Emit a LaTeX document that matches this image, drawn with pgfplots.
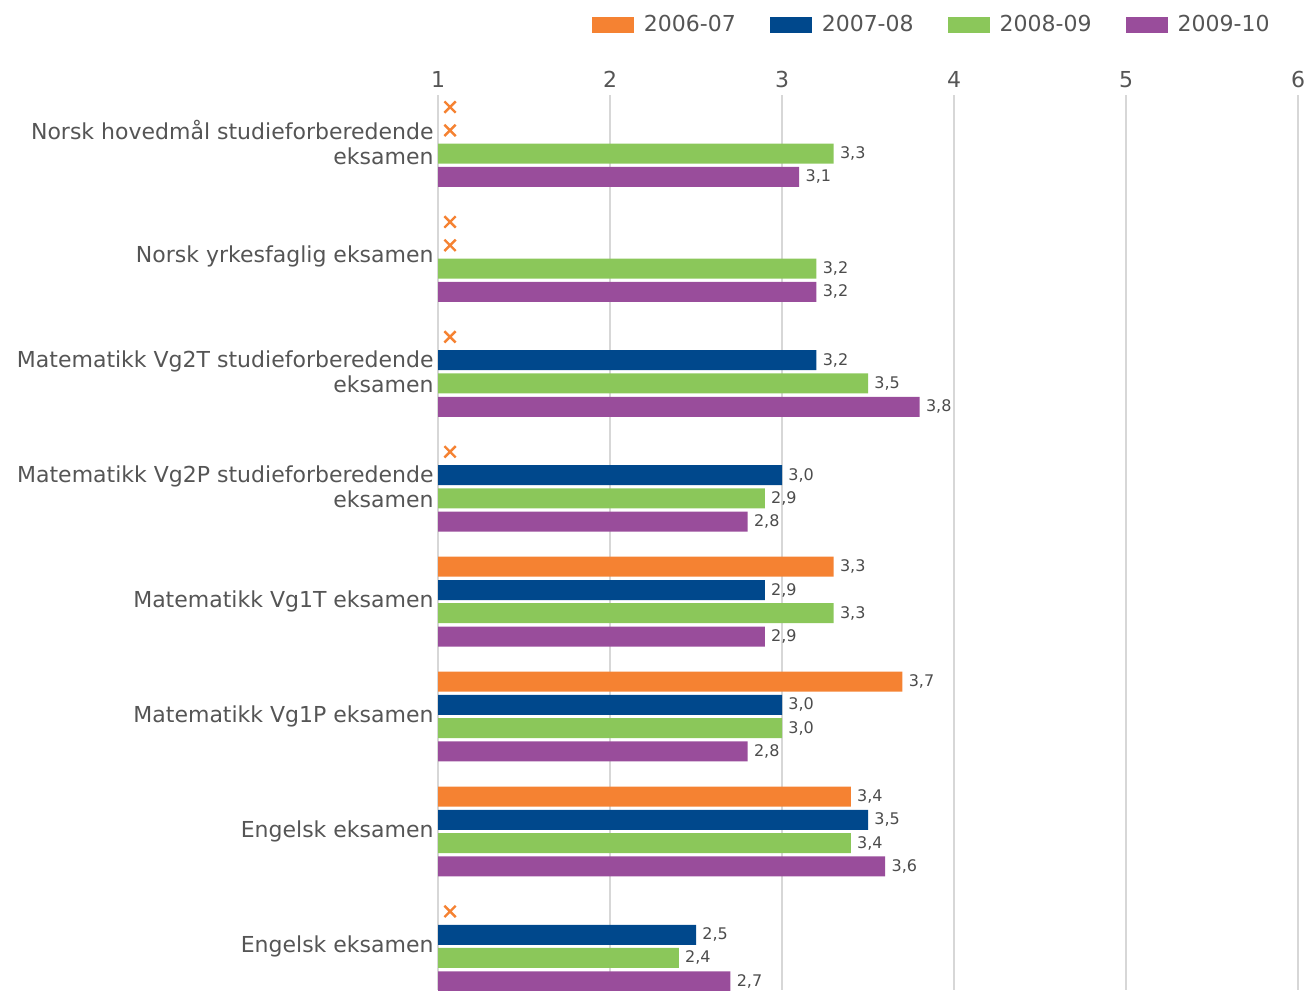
\documentclass[border=0pt]{standalone}
\usepackage{fontspec}
\setmainfont{DejaVu Sans}
\usepackage{pgfplots}
\pgfplotsset{compat=1.18}
\usetikzlibrary{calc}
\definecolor{corange}{RGB}{245,130,50}
\definecolor{cblue}{RGB}{0,72,140}
\definecolor{cgreen}{RGB}{139,199,90}
\definecolor{cpurple}{RGB}{153,77,155}
\definecolor{txt}{RGB}{85,85,85}
\definecolor{gridc}{RGB}{215,215,215}
\pgfplotsset{
  lbl/.style={nodes near coords={\pgfmathprintnumber[fixed,fixed zerofill,precision=1,use comma]{\pgfplotspointmeta}},
    point meta=x,
    every node near coord/.append style={font=\fontsize{8}{9}\selectfont, text=txt!90!black, anchor=west, inner sep=1pt, xshift=2pt}},
}
% y positions: category index (0 = top) plus the series offset
\begin{document}
\begin{tikzpicture}
\begin{axis}[name=ax, scale only axis, width=430pt, height=447.5pt,
  xmin=1, xmax=6, ymin=-0.409, ymax=7.38, y dir=reverse,
  /pgf/number format/assume math mode=true,
  xtick={1,2,3,4,5,6}, xticklabel pos=upper,
  xmajorgrids, major grid style={draw=gridc, line width=0.75pt},
  axis line style={draw=none}, tick style={draw=none},
  xticklabel style={font=\fontsize{11}{13}\selectfont, text=txt},
  ytick={0,1,2,3,4,5,6,7},
  yticklabels={{Norsk hovedmål studieforberedende\\eksamen},
    {Norsk yrkesfaglig eksamen},
    {Matematikk Vg2T studieforberedende\\eksamen},
    {Matematikk Vg2P studieforberedende\\eksamen},
    {Matematikk Vg1T eksamen},
    {Matematikk Vg1P eksamen},
    {Engelsk eksamen},
    {Engelsk eksamen}},
  yticklabel style={align=right, font=\fontsize{11}{12.5}\selectfont, text=txt, inner sep=2pt},
  legend columns=-1,
  legend style={at={(0.979,1.078)}, anchor=east, draw=none, fill=none,
    font=\fontsize{11}{13}\selectfont, text=txt,
    /tikz/every odd column/.append style={column sep=3pt},
    /tikz/every even column/.append style={column sep=15pt}},
]
\addplot[xbar, bar width=0.174, bar shift=0pt, fill=corange, draw=none, lbl,
  legend image code/.code={\fill[corange] (0pt,-4pt) rectangle (21pt,4pt);}]
  coordinates {(3.3,3.696) (3.7,4.696) (3.4,5.696)};
\addlegendentry{2006-07}
\addplot[xbar, bar width=0.174, bar shift=0pt, fill=cblue, draw=none, lbl,
  legend image code/.code={\fill[cblue] (0pt,-4pt) rectangle (21pt,4pt);}]
  coordinates {(3.2,1.899) (3.0,2.899) (2.9,3.899) (3.0,4.899) (3.5,5.899) (2.5,6.899)};
\addlegendentry{2007-08}
\addplot[xbar, bar width=0.174, bar shift=0pt, fill=cgreen, draw=none, lbl,
  legend image code/.code={\fill[cgreen] (0pt,-4pt) rectangle (21pt,4pt);}]
  coordinates {(3.3,0.101) (3.2,1.101) (3.5,2.101) (2.9,3.101) (3.3,4.101) (3.0,5.101) (3.4,6.101) (2.4,7.101)};
\addlegendentry{2008-09}
\addplot[xbar, bar width=0.174, bar shift=0pt, fill=cpurple, draw=none, lbl,
  legend image code/.code={\fill[cpurple] (0pt,-4pt) rectangle (21pt,4pt);}]
  coordinates {(3.1,0.304) (3.2,1.304) (3.8,2.304) (2.8,3.304) (2.9,4.304) (2.8,5.304) (3.6,6.304) (2.7,7.304)};
\addlegendentry{2009-10}
\addplot[forget plot, only marks, mark=x, mark size=4pt, mark options={draw=corange, line width=1.2pt}]
  coordinates {(1.07,-0.304) (1.07,-0.101) (1.07,0.696) (1.07,0.899) (1.07,1.696) (1.07,2.696) (1.07,6.696)};
\end{axis}
\pgfresetboundingbox
\path ($(ax.south west)+(-219pt,0)$) rectangle ($(ax.north east)+(3.5pt,47.5pt)$);
\end{tikzpicture}
\end{document}
